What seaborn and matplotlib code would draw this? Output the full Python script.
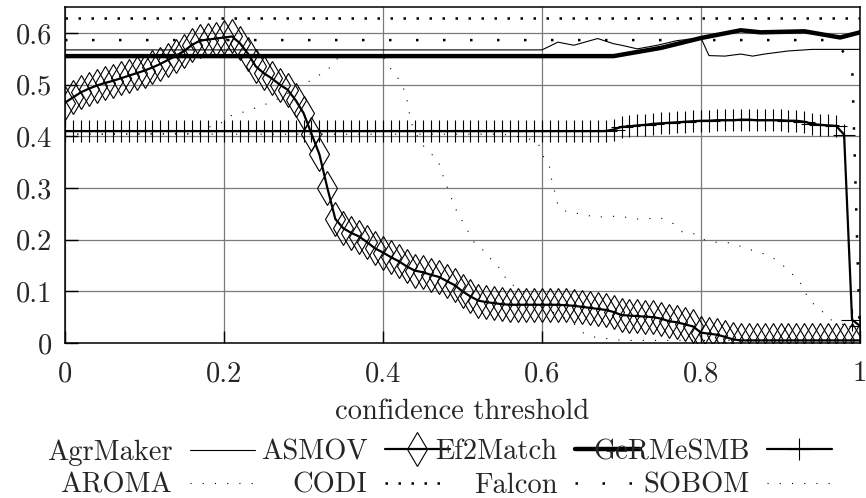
import numpy as np
import matplotlib
matplotlib.use("Agg")
import matplotlib.pyplot as plt
import seaborn as sns
from matplotlib.ticker import FuncFormatter

# confidence thresholds used for the marked series (step 0.01)
thresholds = np.round(np.arange(0, 101) / 100, 2)

asmov = [0.465, 0.475, 0.485, 0.492, 0.498, 0.503, 0.507, 0.512, 0.517, 0.522,
         0.527, 0.533, 0.540, 0.548, 0.556, 0.565, 0.577, 0.585, 0.587, 0.589,
         0.591, 0.593, 0.580, 0.560, 0.535, 0.522, 0.512, 0.500, 0.490, 0.470,
         0.445, 0.405, 0.365, 0.300, 0.240, 0.222, 0.213, 0.206, 0.195, 0.183,
         0.175, 0.166, 0.158, 0.148, 0.140, 0.137, 0.132, 0.128, 0.120, 0.112,
         0.100, 0.090, 0.082, 0.079, 0.077, 0.075, 0.074, 0.074, 0.074, 0.074,
         0.074, 0.074, 0.074, 0.073, 0.072, 0.070, 0.068, 0.066, 0.064, 0.060,
         0.054, 0.053, 0.052, 0.051, 0.050, 0.047, 0.042, 0.040, 0.036, 0.032,
         0.020, 0.018, 0.016, 0.012, 0.007, 0.005, 0.005, 0.005, 0.005, 0.005,
         0.005, 0.005, 0.005, 0.005, 0.005, 0.005, 0.005, 0.005, 0.005, 0.005,
         0.005]

germesmb = [0.41, 0.41, 0.41, 0.41, 0.41, 0.41, 0.41, 0.41, 0.41, 0.41,
            0.41, 0.41, 0.41, 0.41, 0.41, 0.41, 0.41, 0.41, 0.41, 0.41,
            0.41, 0.41, 0.41, 0.41, 0.41, 0.41, 0.41, 0.41, 0.41, 0.41,
            0.41, 0.41, 0.41, 0.41, 0.41, 0.41, 0.41, 0.41, 0.41, 0.41,
            0.41, 0.41, 0.41, 0.41, 0.41, 0.41, 0.41, 0.41, 0.41, 0.41,
            0.41, 0.41, 0.41, 0.41, 0.41, 0.41, 0.41, 0.41, 0.41, 0.41,
            0.41, 0.41, 0.41, 0.41, 0.41, 0.41, 0.41, 0.41, 0.41, 0.413,
            0.418, 0.419, 0.421, 0.422, 0.424, 0.425, 0.426, 0.427, 0.428, 0.429,
            0.430, 0.430, 0.431, 0.431, 0.431, 0.432, 0.432, 0.431, 0.431, 0.431,
            0.431, 0.430, 0.430, 0.428, 0.424, 0.422, 0.421, 0.420, 0.403, 0.045,
            0.033]

agrmaker_x = [0, 0.60, 0.62, 0.64, 0.67, 0.69, 0.70, 0.72, 0.745, 0.77, 0.80,
              0.81, 0.83, 0.85, 0.865, 0.88, 0.91, 0.94, 1.0]
agrmaker_y = [0.567, 0.567, 0.582, 0.576, 0.589, 0.579, 0.576, 0.569, 0.576, 0.585, 0.590,
              0.556, 0.555, 0.559, 0.555, 0.559, 0.565, 0.568, 0.568]

ef2match_x = [0, 0.69, 0.75, 0.80, 0.85, 0.875, 0.93, 0.975, 1.0]
ef2match_y = [0.555, 0.555, 0.571, 0.590, 0.605, 0.601, 0.603, 0.591, 0.601]

aroma_x = [0, 0.17, 0.18, 0.20, 0.21, 0.23, 0.245, 0.26, 0.30, 0.317, 0.33, 0.34, 0.35,
           0.40, 0.41, 0.42, 0.425, 0.43, 0.433, 0.437, 0.447, 0.458, 0.469, 0.474,
           0.479, 0.485, 0.493, 0.505, 0.517, 0.531, 0.539, 0.55, 0.556, 0.572, 0.60,
           0.638, 0.65, 0.663, 0.70, 1.0]
aroma_y = [0.404, 0.405, 0.417, 0.428, 0.441, 0.449, 0.458, 0.466, 0.499, 0.516, 0.527,
           0.548, 0.555, 0.555, 0.530, 0.510, 0.497, 0.472, 0.446, 0.420, 0.388, 0.369,
           0.355, 0.330, 0.309, 0.284, 0.254, 0.222, 0.188, 0.175, 0.153, 0.142, 0.118,
           0.105, 0.070, 0.041, 0.021, 0.012, 0.005, 0.005]

codi_x = [0, 1.0]
codi_y = [0.629, 0.629]

falcon_x = [0, 0.97, 0.98, 0.99, 1.0]
falcon_y = [0.586, 0.586, 0.560, 0.546, 0.0]

sobom_x = [0, 0.55, 0.58, 0.595, 0.60, 0.609, 0.612, 0.616, 0.62, 0.633, 0.65, 0.667,
           0.683, 0.70, 0.715, 0.732, 0.748, 0.765, 0.777, 0.793, 0.806, 0.823, 0.839,
           0.854, 0.87, 0.886, 0.90, 0.911, 0.922, 0.929, 0.936, 0.95, 0.96, 0.98, 1.0]
sobom_y = [0.404, 0.404, 0.397, 0.388, 0.365, 0.344, 0.317, 0.293, 0.266, 0.252, 0.250,
           0.243, 0.245, 0.245, 0.240, 0.240, 0.243, 0.231, 0.214, 0.211, 0.198, 0.194,
           0.194, 0.184, 0.177, 0.169, 0.155, 0.138, 0.124, 0.106, 0.082, 0.066, 0.047,
           0.035, 0.030]

x_ticks = [0, 0.2, 0.4, 0.6, 0.8, 1.0]
y_ticks = [0, 0.1, 0.2, 0.3, 0.4, 0.5, 0.6]

sns.set_theme(style="white")
plt.rcParams["font.family"] = ["cmr10", "DejaVu Serif"]
plt.rcParams["axes.unicode_minus"] = False
FS = 20.5

fig, ax = plt.subplots(figsize=(8.66, 4.98), dpi=100)
fig.subplots_adjust(left=65 / 866, right=860 / 866, bottom=155 / 498, top=491 / 498)

common = dict(ax=ax, color="black", errorbar=None, legend=False, sort=False)
sns.lineplot(x=agrmaker_x, y=agrmaker_y, lw=0.8, label="AgrMaker", **common)
sns.lineplot(x=thresholds, y=asmov, lw=1.6, marker="d", markersize=17,
             markerfacecolor="none", markeredgecolor="black", markeredgewidth=0.8,
             label="ASMOV", **common)
sns.lineplot(x=ef2match_x, y=ef2match_y, lw=3.2, label="Ef2Match", **common)
sns.lineplot(x=thresholds, y=germesmb, lw=1.6, marker="+", markersize=16,
             markeredgecolor="black", markeredgewidth=0.8, label="GeRMeSMB", **common)
sns.lineplot(x=aroma_x, y=aroma_y, lw=0.8, ls=(0, (1, 10)), label="AROMA", **common)
sns.lineplot(x=codi_x, y=codi_y, lw=1.8, ls=(0, (1, 4.2)), label="CODI", **common)
sns.lineplot(x=falcon_x, y=falcon_y, lw=1.8, ls=(0, (1, 9.8)), label="Falcon", **common)
sns.lineplot(x=sobom_x, y=sobom_y, lw=0.8, ls=(0, (1, 10)), label="SOBOM", **common)

ax.set_xlim(0, 1)
ax.set_ylim(0, 0.65)
ax.set_xticks(x_ticks)
ax.set_yticks(y_ticks)
fmt = FuncFormatter(lambda v, p: f"{v:g}")
ax.xaxis.set_major_formatter(fmt)
ax.yaxis.set_major_formatter(fmt)
ax.tick_params(axis="both", which="major", direction="in", length=9, width=1,
               color="black", labelsize=FS, left=True, bottom=True)
ax.tick_params(axis="y", pad=9)
ax.tick_params(axis="x", pad=13)
ax.grid(True, color="#7a7a7a", lw=0.9)
for s in ax.spines.values():
    s.set_color("black")
    s.set_linewidth(1.1)
ax.set_xlabel("confidence threshold", fontsize=FS, labelpad=8)
ax.set_ylabel("")

# gnuplot-like key: label first, sample after it, columns right aligned
handles, labels = ax.get_legend_handles_labels()
lookup = dict(zip(labels, handles))
columns = [("AgrMaker", "AROMA"), ("ASMOV", "CODI"),
           ("Ef2Match", "Falcon"), ("GeRMeSMB", "SOBOM")]
col_right = [255, 450, 640, 832]
for names, right in zip(columns, col_right):
    fig.legend([lookup[n] for n in names], list(names), loc="upper right",
               bbox_to_anchor=(right / 866, 1 - 439 / 498), markerfirst=False,
               frameon=False, fontsize=FS, handlelength=2.3, handletextpad=0.6,
               labelspacing=0.25, borderpad=0, borderaxespad=0)

fig.savefig("out.png", dpi=100)
